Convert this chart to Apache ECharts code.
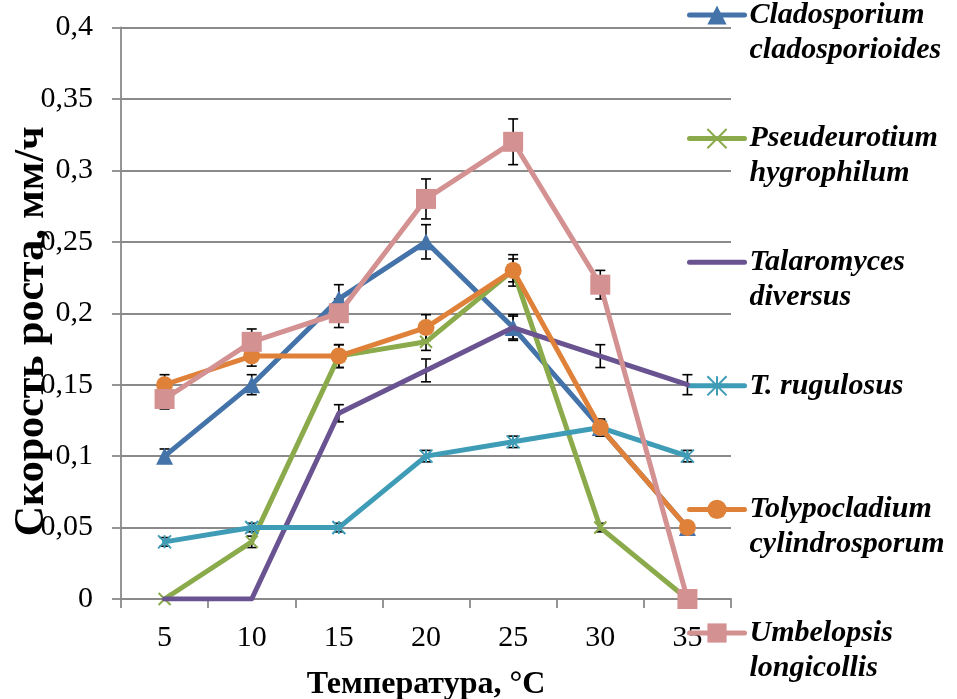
<!DOCTYPE html>
<html>
<head>
<meta charset="utf-8">
<script src="https://cdn.jsdelivr.net/npm/echarts@6/dist/echarts.min.js"></script>
<style>html,body{margin:0;padding:0;background:#fff;}#c{width:957px;height:699px;}</style>
</head>
<body>
<div id="c"></div>
<script>
const categories = ['5', '10', '15', '20', '25', '30', '35'];
const yTicks = ['0', '0,05', '0,1', '0,15', '0,2', '0,25', '0,3', '0,35', '0,4'];

const seriesNames = ['Cladosporium cladosporioides', 'Pseudeurotium hygrophilum', 'Talaromyces diversus', 'T. rugulosus', 'Tolypocladium cylindrosporum', 'Umbelopsis longicollis'];
const legendLines = [['Cladosporium', 'cladosporioides'], ['Pseudeurotium', 'hygrophilum'], ['Talaromyces', 'diversus'], ['T. rugulosus', ''], ['Tolypocladium', 'cylindrosporum'], ['Umbelopsis', 'longicollis']];

const cladosporium = [0.10, 0.15, 0.21, 0.25, 0.19, 0.12, 0.05];
const pseudeurotium = [0.00, 0.04, 0.17, 0.18, 0.23, 0.05, 0.00];
const talaromyces = [0.00, 0.00, 0.13, 0.16, 0.19, 0.17, 0.15];
const rugulosus = [0.04, 0.05, 0.05, 0.10, 0.11, 0.12, 0.10];
const tolypocladium = [0.15, 0.17, 0.17, 0.19, 0.23, 0.12, 0.05];
const umbelopsis = [0.14, 0.18, 0.20, 0.28, 0.32, 0.22, 0.00];

const errCladosporium = [0.005, 0.007, 0.010, 0.012, 0.009, 0.005, 0.003];
const errPseudeurotium = [0.000, 0.004, 0.008, 0.006, 0.008, 0.003, 0.000];
const errTalaromyces = [0.000, 0.000, 0.006, 0.008, 0.008, 0.008, 0.007];
const errRugulosus = [0.003, 0.003, 0.003, 0.004, 0.004, 0.005, 0.004];
const errTolypocladium = [0.007, 0.007, 0.008, 0.009, 0.011, 0.006, 0.003];
const errUmbelopsis = [0.007, 0.009, 0.010, 0.014, 0.016, 0.010, 0.000];

const values = [cladosporium, pseudeurotium, talaromyces, rugulosus, tolypocladium, umbelopsis];
const errors = [errCladosporium, errPseudeurotium, errTalaromyces, errRugulosus, errTolypocladium, errUmbelopsis];
const colors = ['#4473AA', '#8BAA4B', '#6A5391', '#3F9CB6', '#E0813A', '#D49192'];
const symbols = ['triangle', 'path://M0,0L10,10M0,10L10,0', 'circle', 'path://M0,0L10,10M0,10L10,0M5,0L5,10', 'circle', 'rect'];
const showSymbols = [true, true, false, true, true, true];
const symbolSizes = [17, 12, 0, 13, 17, 20];

const FONT = '"Liberation Serif", "Times New Roman", serif';
const GRAY = '#8a8a8a';

const chart = echarts.init(document.getElementById('c'), null, {renderer: 'canvas'});

const series = [];
values.forEach((vals, si) => {
  series.push({
    type: 'custom',
    name: seriesNames[si] + ' err',
    silent: true,
    z: 1,
    data: vals.map((v, i) => [i, v, errors[si][i]]),
    renderItem: function (params, api) {
      const e = api.value(2);
      if (!e) return null;
      const x = api.value(0), y = api.value(1);
      const top = api.coord([x, y + e]);
      const bot = api.coord([x, y - e]);
      const w = 5;
      const st = {stroke: '#000', lineWidth: 1.6};
      return {
        type: 'group',
        children: [
          {type: 'line', shape: {x1: top[0], y1: top[1], x2: bot[0], y2: bot[1]}, style: st},
          {type: 'line', shape: {x1: top[0] - w, y1: top[1], x2: top[0] + w, y2: top[1]}, style: st},
          {type: 'line', shape: {x1: bot[0] - w, y1: bot[1], x2: bot[0] + w, y2: bot[1]}, style: st}
        ]
      };
    }
  });
});
values.forEach((vals, si) => {
  const isStroke = symbols[si].startsWith('path://');
  series.push({
    type: 'line',
    name: seriesNames[si],
    data: vals,
    z: 2 + si,
    symbol: symbols[si],
    symbolSize: symbolSizes[si],
    showSymbol: showSymbols[si],
    lineStyle: {color: colors[si], width: 5, cap: 'round', join: 'round'},
    itemStyle: isStroke ? {color: colors[si], borderColor: colors[si], borderWidth: 2} : {color: colors[si], borderWidth: 0},
    emphasis: {disabled: true},
    animation: false
  });
});

const legendData = seriesNames.map((n, i) => showSymbols[i] ? {name: n} : {name: n, itemStyle: {opacity: 0}});

chart.setOption({
  animation: false,
  backgroundColor: '#ffffff',
  grid: {left: 121, right: 226, top: 27.5, bottom: 100, containLabel: false, outerBoundsMode: 'none'},
  xAxis: {
    type: 'category',
    data: categories,
    boundaryGap: true,
    name: 'Температура, °C',
    nameLocation: 'middle',
    nameGap: 70,
    nameMoveOverlap: false,
    nameTextStyle: {fontFamily: FONT, fontSize: 32, fontWeight: 'bold', color: '#000'},
    axisLine: {lineStyle: {color: GRAY, width: 1.8}},
    axisTick: {show: true, length: 9, alignWithLabel: false, lineStyle: {color: GRAY, width: 1.8}},
    axisLabel: {fontFamily: FONT, fontSize: 30, color: '#000', margin: 24},
    splitLine: {show: false}
  },
  yAxis: {
    type: 'value',
    min: 0,
    max: 0.4,
    interval: 0.05,
    name: 'Скорость роста, мм/ч',
    nameLocation: 'middle',
    nameRotate: 90,
    nameGap: 68,
    nameMoveOverlap: false,
    nameTextStyle: {fontFamily: FONT, fontSize: 42, fontWeight: 'bold', color: '#000', padding: [0, 36, 0, 0]},
    axisLine: {show: true, lineStyle: {color: GRAY, width: 1.8}},
    axisTick: {show: true, length: 9, lineStyle: {color: GRAY, width: 1.8}},
    axisLabel: {
      fontFamily: FONT, fontSize: 30, color: '#000', margin: 28,
      formatter: function (v) { return yTicks[Math.round(v / 0.05)]; }
    },
    splitLine: {show: true, lineStyle: {color: GRAY, width: 1.8}}
  },
  legend: {
    orient: 'vertical',
    left: 687,
    top: -37.5,
    padding: 0,
    itemWidth: 55,
    itemHeight: 24,
    itemGap: 18.6,
    data: legendData,
    lineStyle: {width: 5, cap: 'round'},
    formatter: function (name) {
      const l = legendLines[seriesNames.indexOf(name)];
      return '\n' + l[0] + '\n' + l[1];
    },
    textStyle: {fontFamily: FONT, fontSize: 30, fontWeight: 'bold', fontStyle: 'italic', color: '#000', lineHeight: 35},
    selectedMode: false
  },
  series: series
});
</script>
</body>
</html>
